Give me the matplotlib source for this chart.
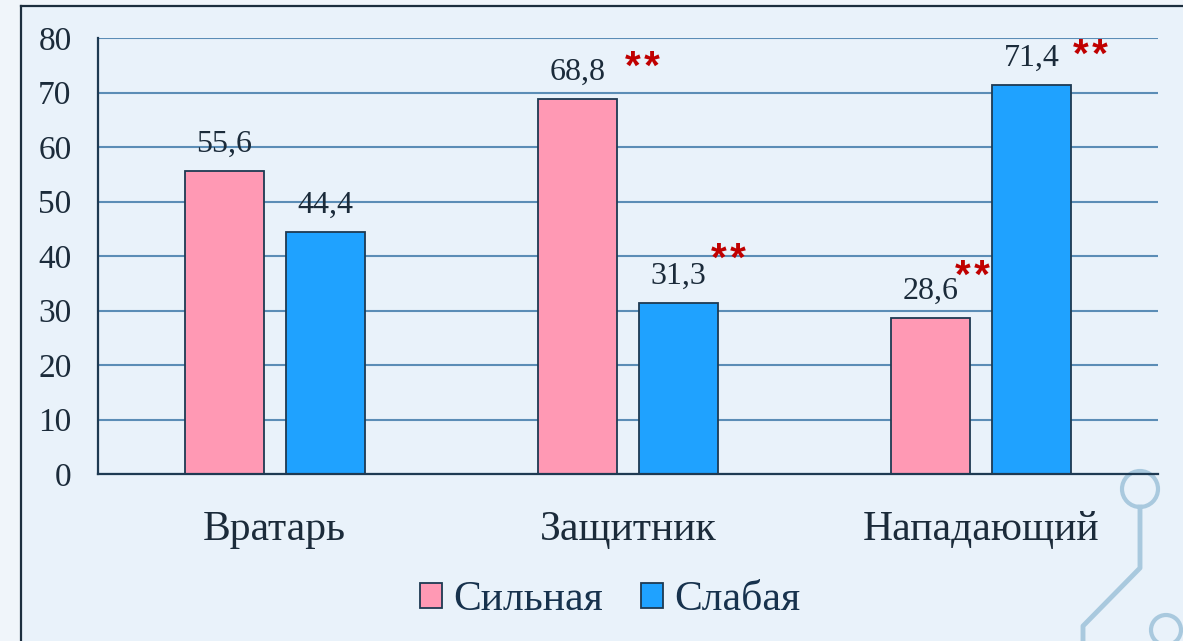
import matplotlib
matplotlib.use("Agg")
import matplotlib.pyplot as plt
import numpy as np
from matplotlib.patches import Rectangle, Ellipse
from matplotlib.lines import Line2D

categories = ["Вратарь", "Защитник", "Нападающий"]
series_names = ["Сильная", "Слабая"]
strong = [55.6, 68.8, 28.6]
weak = [44.4, 31.3, 71.4]
value_labels_strong = ["55,6", "68,8", "28,6"]
value_labels_weak = ["44,4", "31,3", "71,4"]
# significance marks (** ) for each bar
sig_strong = [False, True, True]
sig_weak = [False, True, True]
yticks = [0, 10, 20, 30, 40, 50, 60, 70, 80]

pink = "#FF99B4"
blue = "#1FA2FF"
edge = "#1E3A52"
text_col = "#1B2B3A"
grid_col = "#5B8DB6"
star_col = "#C00000"

plt.rcParams['font.family'] = ['Liberation Serif', 'DejaVu Serif']

W, H = 1183, 641
fig = plt.figure(figsize=(W / 100, H / 100), dpi=100)
fig.patch.set_facecolor("#F0F5FA")

# frame
fig.add_artist(Rectangle((20 / W, 0), 1 - 20 / W, 1 - 6 / H, transform=fig.transFigure,
                         facecolor="#E9F2FA", edgecolor="none", zorder=-5))
fig.add_artist(Line2D([21 / W, 21 / W], [0, 1 - 6 / H], transform=fig.transFigure, color="#1C2E3E", lw=1.6, zorder=-4))
fig.add_artist(Line2D([21 / W, 1], [1 - 6 / H, 1 - 6 / H], transform=fig.transFigure, color="#1C2E3E", lw=1.6, zorder=-4))

# circuit decoration
dec = "#A9C9DE"
fig.add_artist(Ellipse((1140 / W, 1 - 489 / H), 36 / W, 36 / H, transform=fig.transFigure, fill=False,
                       edgecolor=dec, lw=3, zorder=-3))
fig.add_artist(Line2D([1140 / W, 1140 / W, 1083 / W, 1083 / W],
                      [1 - 507 / H, 1 - 568 / H, 1 - 626 / H, 0], transform=fig.transFigure, color=dec, lw=3.5,
                      zorder=-3))
fig.add_artist(Ellipse((1166 / W, 1 - 630 / H), 30 / W, 30 / H, transform=fig.transFigure, fill=False,
                       edgecolor=dec, lw=3, zorder=-3))

ax = fig.add_axes([98 / W, 1 - 474 / H, (1158 - 98) / W, (474 - 38) / H])
ax.set_facecolor("none")

x = np.arange(len(categories))
bw = 0.224
off = 0.143
b1 = ax.bar(x - off, strong, bw, color=pink, edgecolor=edge, lw=1.3, label=series_names[0], zorder=3)
b2 = ax.bar(x + off, weak, bw, color=blue, edgecolor=edge, lw=1.3, label=series_names[1], zorder=3)

ax.set_xlim(-0.5, len(categories) - 0.5)
ax.set_ylim(0, 80)
ax.set_yticks(yticks)
ax.set_yticklabels([str(t) for t in yticks], fontsize=24, color=text_col)
ax.set_xticks(x)
ax.set_xticklabels(categories, fontsize=30, color=text_col)
ax.tick_params(axis='y', length=0, pad=19)
ax.tick_params(axis='x', length=0, pad=26)
ax.yaxis.grid(True, color=grid_col, lw=1.5, zorder=0)
ax.set_axisbelow(True)
for s in ["top", "right"]:
    ax.spines[s].set_visible(False)
for s in ["left", "bottom"]:
    ax.spines[s].set_color(edge)
    ax.spines[s].set_linewidth(1.6)
    ax.spines[s].set_zorder(4)

for bars, vals, labs in [(b1, strong, value_labels_strong), (b2, weak, value_labels_weak)]:
    for r, v, lab in zip(bars, vals, labs):
        ax.annotate(lab, (r.get_x() + r.get_width() / 2, v), xytext=(0, 14), textcoords="offset points",
                    ha="center", va="baseline", fontsize=23, color=text_col)

# star offsets in points relative to bar top-center
star_off_strong = [(0, 0), (47, 14.5), (30, 21.5)]
star_off_weak = [(0, 0), (36, 23.5), (42, 13)]
for bars, vals, sig, offs in [(b1, strong, sig_strong, star_off_strong), (b2, weak, sig_weak, star_off_weak)]:
    for r, v, s, o in zip(bars, vals, sig, offs):
        if s:
            ax.annotate("*\u200a*", (r.get_x() + r.get_width() / 2, v), xytext=o, textcoords="offset points",
                        ha="center", va="baseline", fontsize=29, color=star_col, fontweight="bold",
                        family=["Liberation Sans", "DejaVu Sans"])

leg = fig.legend(handles=[b1, b2], labels=series_names, loc="center",
                 bbox_to_anchor=(610 / W, 1 - 600 / H), ncol=2, frameon=False,
                 fontsize=30, handlelength=0.53, handleheight=0.53, handletextpad=0.28,
                 columnspacing=0.9, labelcolor="#17324D")

fig.savefig("out.png", dpi=100, facecolor=fig.get_facecolor())
